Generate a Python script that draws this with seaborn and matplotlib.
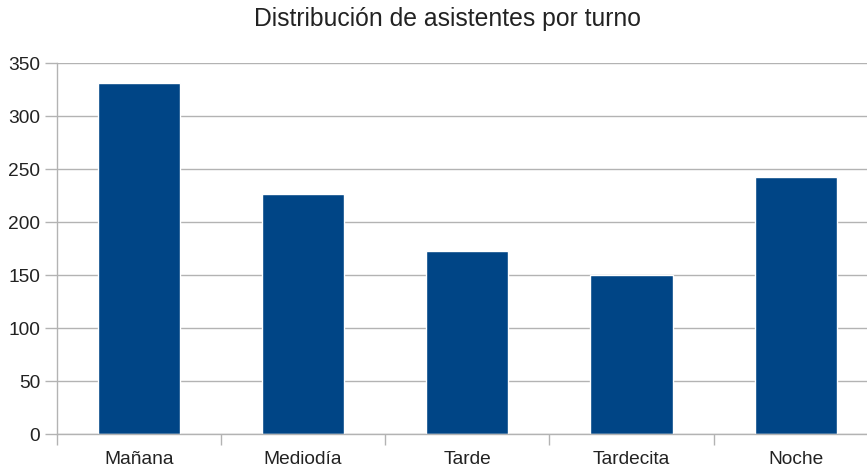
import matplotlib
matplotlib.use("Agg")
import matplotlib.pyplot as plt
import seaborn as sns
import pandas as pd
from matplotlib.ticker import FixedLocator

# data
turnos = ["Mañana", "Mediodía", "Tarde", "Tardecita", "Noche"]
asistentes = [331, 227, 173, 150, 243]

sns.set_theme(style="white")
plt.rcParams["font.family"] = ["Liberation Sans", "DejaVu Sans"]

df = pd.DataFrame({"Turno": turnos, "Asistentes": asistentes})

fig = plt.figure(figsize=(8.67, 4.69), dpi=100)
ax = fig.add_axes([0.0655, 0.074, 0.947, 0.791])

sns.barplot(data=df, x="Turno", y="Asistentes", color="#004586",
            saturation=1, width=0.5, ax=ax)

ax.set_xlim(-0.5, 4.5)
ax.set_ylim(0, 350)
ax.set_yticks(range(0, 351, 50))
ax.yaxis.grid(True, color="#b3b3b3", linewidth=1)
ax.set_axisbelow(True)
ax.set_xlabel("")
ax.set_ylabel("")

for side in ["top", "right"]:
    ax.spines[side].set_visible(False)
for side in ["left", "bottom"]:
    ax.spines[side].set_color("#b3b3b3")
    ax.spines[side].set_linewidth(1)

# category boundaries as tick marks under the axis
ax.xaxis.set_minor_locator(FixedLocator([-0.5, 0.5, 1.5, 2.5, 3.5]))
ax.tick_params(axis="x", which="minor", bottom=True, length=8,
               color="#b3b3b3", width=1)
ax.tick_params(axis="x", which="major", bottom=True, length=0, pad=12,
               labelsize=13.8, labelcolor="#222222")
ax.tick_params(axis="y", left=True, length=9, color="#b3b3b3", width=1,
               pad=3, labelsize=13.8, labelcolor="#222222")

fig.text(0.516, 0.96, "Distribución de asistentes por turno", fontsize=17.8,
         color="#222222", ha="center", va="center")

fig.savefig("out.png", dpi=100)
